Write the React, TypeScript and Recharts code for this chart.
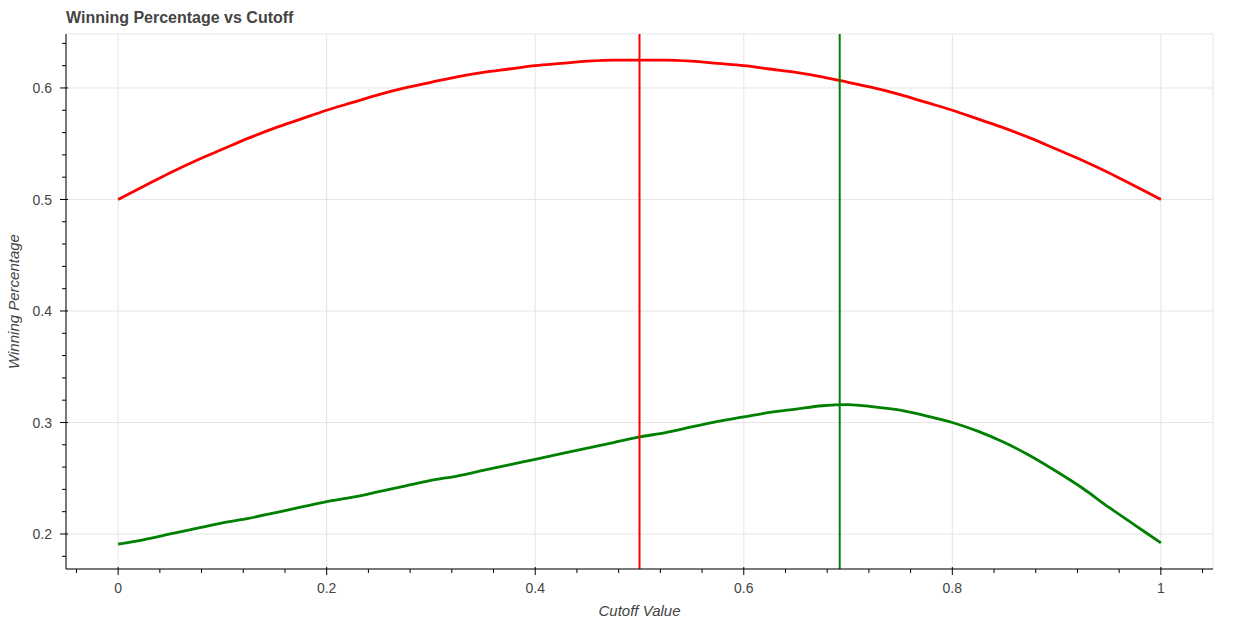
import React from "react";
import {
  LineChart,
  Line,
  XAxis,
  YAxis,
  CartesianGrid,
  ReferenceLine,
  ReferenceArea,
} from "recharts";

const cutoffs = [
  0, 0.025, 0.05, 0.075, 0.1, 0.125, 0.15, 0.175, 0.2, 0.225, 0.25, 0.275, 0.3,
  0.325, 0.35, 0.375, 0.4, 0.425, 0.45, 0.475, 0.5, 0.525, 0.55, 0.575, 0.6,
  0.625, 0.65, 0.675, 0.7, 0.725, 0.75, 0.775, 0.8, 0.825, 0.85, 0.875, 0.9,
  0.925, 0.95, 0.975, 1.0,
];

const redValues = [
  0.5, 0.512, 0.524, 0.535, 0.545, 0.555, 0.564, 0.572, 0.58, 0.587, 0.594,
  0.6, 0.605, 0.61, 0.614, 0.617, 0.62, 0.622, 0.624, 0.625, 0.625, 0.625,
  0.624, 0.622, 0.62, 0.617, 0.614, 0.61, 0.605, 0.6, 0.594, 0.587, 0.58,
  0.572, 0.564, 0.555, 0.545, 0.535, 0.524, 0.512, 0.5,
];

const greenValues = [
  0.191, 0.195, 0.2, 0.205, 0.21, 0.214, 0.219, 0.224, 0.229, 0.233, 0.238,
  0.243, 0.248, 0.252, 0.257, 0.262, 0.267, 0.272, 0.277, 0.282, 0.287, 0.291,
  0.296, 0.301, 0.305, 0.309, 0.312, 0.315, 0.316, 0.314, 0.311, 0.306, 0.3,
  0.292, 0.282, 0.27, 0.256, 0.241, 0.224, 0.208, 0.192,
];

const redOptimal = 0.5;
const greenOptimal = 0.692;

const xDomain: [number, number] = [-0.05, 1.05];
const yDomain: [number, number] = [0.1686, 0.6484];

const xMajorTicks = [0, 0.2, 0.4, 0.6, 0.8, 1];
const xMajorLabels = ["0", "0.2", "0.4", "0.6", "0.8", "1"];
const xAllTicks = [
  -0.04, 0, 0.04, 0.08, 0.12, 0.16, 0.2, 0.24, 0.28, 0.32, 0.36, 0.4, 0.44,
  0.48, 0.52, 0.56, 0.6, 0.64, 0.68, 0.72, 0.76, 0.8, 0.84, 0.88, 0.92, 0.96,
  1, 1.04,
];

const yMajorTicks = [0.2, 0.3, 0.4, 0.5, 0.6];
const yMajorLabels = ["0.2", "0.3", "0.4", "0.5", "0.6"];
const yAllTicks = [
  0.18, 0.2, 0.22, 0.24, 0.26, 0.28, 0.3, 0.32, 0.34, 0.36, 0.38, 0.4, 0.42,
  0.44, 0.46, 0.48, 0.5, 0.52, 0.54, 0.56, 0.58, 0.6, 0.62, 0.64,
];

const data = cutoffs.map((c, i) => ({
  cutoff: c,
  red: redValues[i],
  green: greenValues[i],
}));

const FONT = '"Liberation Sans", Arial, Helvetica, sans-serif';
const TEXT = "#444444";

const majorIndex = (list: number[], v: number) =>
  list.findIndex((t) => Math.abs(t - v) < 1e-9);

const XTick = (props: any) => {
  const { x, y, payload } = props;
  const idx = majorIndex(xMajorTicks, payload.value);
  if (idx < 0) {
    return <line x1={x} x2={x} y1={y} y2={y + 4} stroke="#000" strokeWidth={1} />;
  }
  return (
    <g>
      <line x1={x} x2={x} y1={y - 2} y2={y + 6} stroke="#000" strokeWidth={1} />
      <text
        x={x}
        y={y + 24}
        textAnchor="middle"
        fontFamily={FONT}
        fontSize={14}
        fill={TEXT}
      >
        {xMajorLabels[idx]}
      </text>
    </g>
  );
};

const YTick = (props: any) => {
  const { x, y, payload } = props;
  const idx = majorIndex(yMajorTicks, payload.value);
  if (idx < 0) {
    return <line x1={x - 4} x2={x} y1={y} y2={y} stroke="#000" strokeWidth={1} />;
  }
  return (
    <g>
      <line x1={x - 6} x2={x + 2} y1={y} y2={y} stroke="#000" strokeWidth={1} />
      <text
        x={x - 14}
        y={y}
        dy="0.36em"
        textAnchor="end"
        fontFamily={FONT}
        fontSize={14}
        fill={TEXT}
      >
        {yMajorLabels[idx]}
      </text>
    </g>
  );
};

export default function App() {
  return (
    <div
      style={{
        position: "absolute",
        left: 0,
        top: 0,
        width: 1250,
        height: 625,
        background: "#fff",
        fontFamily: FONT,
      }}
    >
      <div
        style={{
          position: "absolute",
          left: 66,
          top: 10,
          fontSize: 16,
          lineHeight: "16px",
          fontWeight: "bold",
          color: TEXT,
          whiteSpace: "nowrap",
        }}
      >
        Winning Percentage vs Cutoff
      </div>
      <div
        style={{
          position: "absolute",
          left: 13 - 100,
          top: 301 - 7.5,
          width: 200,
          height: 15,
          fontSize: 15,
          lineHeight: "15px",
          fontStyle: "italic",
          color: TEXT,
          textAlign: "center",
          transform: "rotate(-90deg)",
          whiteSpace: "nowrap",
        }}
      >
        Winning Percentage
      </div>
      <div
        style={{
          position: "absolute",
          left: 639.5 - 100,
          top: 603.3,
          width: 200,
          fontSize: 15,
          lineHeight: "15px",
          fontStyle: "italic",
          color: TEXT,
          textAlign: "center",
          whiteSpace: "nowrap",
        }}
      >
        Cutoff Value
      </div>
      <LineChart
        width={1250}
        height={625}
        data={data}
        margin={{ top: 34, right: 37, bottom: 0, left: 0 }}
      >
        <CartesianGrid
          stroke="#e5e5e5"
          strokeWidth={1}
          horizontalValues={yMajorTicks}
          verticalValues={xMajorTicks}
          syncWithTicks={false}
        />
        <ReferenceArea
          x1={xDomain[0]}
          x2={xDomain[1]}
          y1={yDomain[0]}
          y2={yDomain[1]}
          fill="none"
          fillOpacity={0}
          stroke="#e5e5e5"
          strokeWidth={1}
          ifOverflow="visible"
        />
        <XAxis
          dataKey="cutoff"
          type="number"
          domain={xDomain}
          ticks={xAllTicks}
          interval={0}
          allowDataOverflow
          height={56}
          tickSize={0}
          tickMargin={0}
          tickLine={false}
          tick={<XTick />}
          axisLine={{ stroke: "#000", strokeWidth: 1 }}
        />
        <YAxis
          type="number"
          domain={yDomain}
          ticks={yAllTicks}
          interval={0}
          allowDataOverflow
          width={66}
          tickSize={0}
          tickMargin={0}
          tickLine={false}
          tick={<YTick />}
          axisLine={{ stroke: "#000", strokeWidth: 1 }}
        />
        <Line
          type="monotone"
          dataKey="red"
          stroke="#ff0000"
          strokeWidth={2.8}
          dot={false}
          activeDot={false}
          isAnimationActive={false}
        />
        <Line
          type="monotone"
          dataKey="green"
          stroke="#008000"
          strokeWidth={2.8}
          dot={false}
          activeDot={false}
          isAnimationActive={false}
        />
        <ReferenceLine x={redOptimal} stroke="#ff0000" strokeWidth={2} />
        <ReferenceLine x={greenOptimal} stroke="#008000" strokeWidth={2} />
      </LineChart>
    </div>
  );
}
